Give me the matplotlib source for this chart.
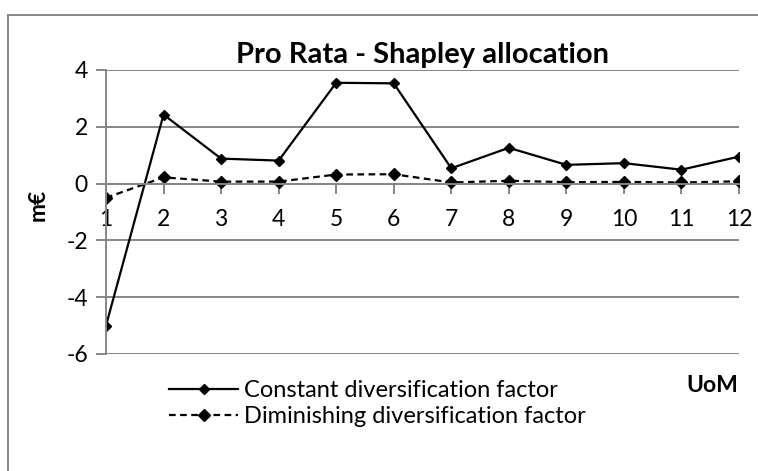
import matplotlib.pyplot as plt
from matplotlib.lines import Line2D

# Du lieu
uom = [1, 2, 3, 4, 5, 6, 7, 8, 9, 10, 11, 12]
constant = [-5.0, 2.43, 0.88, 0.81, 3.55, 3.53, 0.54, 1.26, 0.66, 0.72, 0.49, 0.95]
diminishing = [-0.50, 0.22, 0.07, 0.07, 0.32, 0.33, 0.04, 0.10, 0.05, 0.06, 0.04, 0.08]
yticks = [-6, -4, -2, 0, 2, 4]

plt.rcParams['font.family'] = ['Lato', 'DejaVu Sans']
plt.rcParams['axes.unicode_minus'] = False
grey = '#868686'

fig = plt.figure(figsize=(7.58, 4.71), dpi=100)
ax = fig.add_axes([106 / 758, 1 - 354 / 471, (739 - 106) / 758, (354 - 70) / 471])

ax.plot(uom, constant, color='black', lw=1.6, marker='D', ms=5,
        label='Constant diversification factor')
ax.plot(uom, diminishing, color='black', lw=1.6, ls=(0, (3, 2)), marker='D', ms=6,
        label='Diminishing diversification factor')

for s in ['top', 'right']:
    ax.spines[s].set_visible(False)
ax.spines['bottom'].set_position(('data', 0))
ax.spines['bottom'].set_color(grey)
ax.spines['left'].set_color(grey)
ax.spines['bottom'].set_linewidth(1.4)
ax.spines['left'].set_linewidth(1.4)

ax.set_xlim(1, 12)
ax.set_ylim(-6, 4)
ax.set_yticks(yticks)
ax.set_xticks(uom)
ax.yaxis.grid(True, color=grey, lw=1.4)
ax.set_axisbelow(True)
ax.tick_params(axis='both', colors=grey, length=7, width=1.4, labelcolor='black',
               labelsize=16.5)
ax.tick_params(axis='x', pad=11)
ax.tick_params(axis='y', pad=6)

ax.set_title('Pro Rata - Shapley allocation', fontsize=21, fontweight='bold', pad=5)
fig.text(38 / 758, 1 - 205 / 471, 'm€', rotation=90, fontsize=16.5, fontweight='bold',
         ha='center', va='center')
fig.text(738 / 758, 1 - 385 / 471, 'UoM', fontsize=16.5, fontweight='bold',
         ha='right', va='center')

fig.legend(loc='upper left', bbox_to_anchor=(160 / 758, 1 - 371 / 471), frameon=False,
           fontsize=17, handlelength=2.9, handletextpad=0.25, labelspacing=0.2,
           borderaxespad=0)

# khung ngoai
fig.add_artist(Line2D([8 / 758, 8 / 758], [0, 1 - 15 / 471], color=grey, lw=1.4,
                      transform=fig.transFigure))
fig.add_artist(Line2D([8 / 758, 1], [1 - 15 / 471, 1 - 15 / 471], color=grey, lw=1.4,
                      transform=fig.transFigure))

fig.savefig('out.png', dpi=100)
